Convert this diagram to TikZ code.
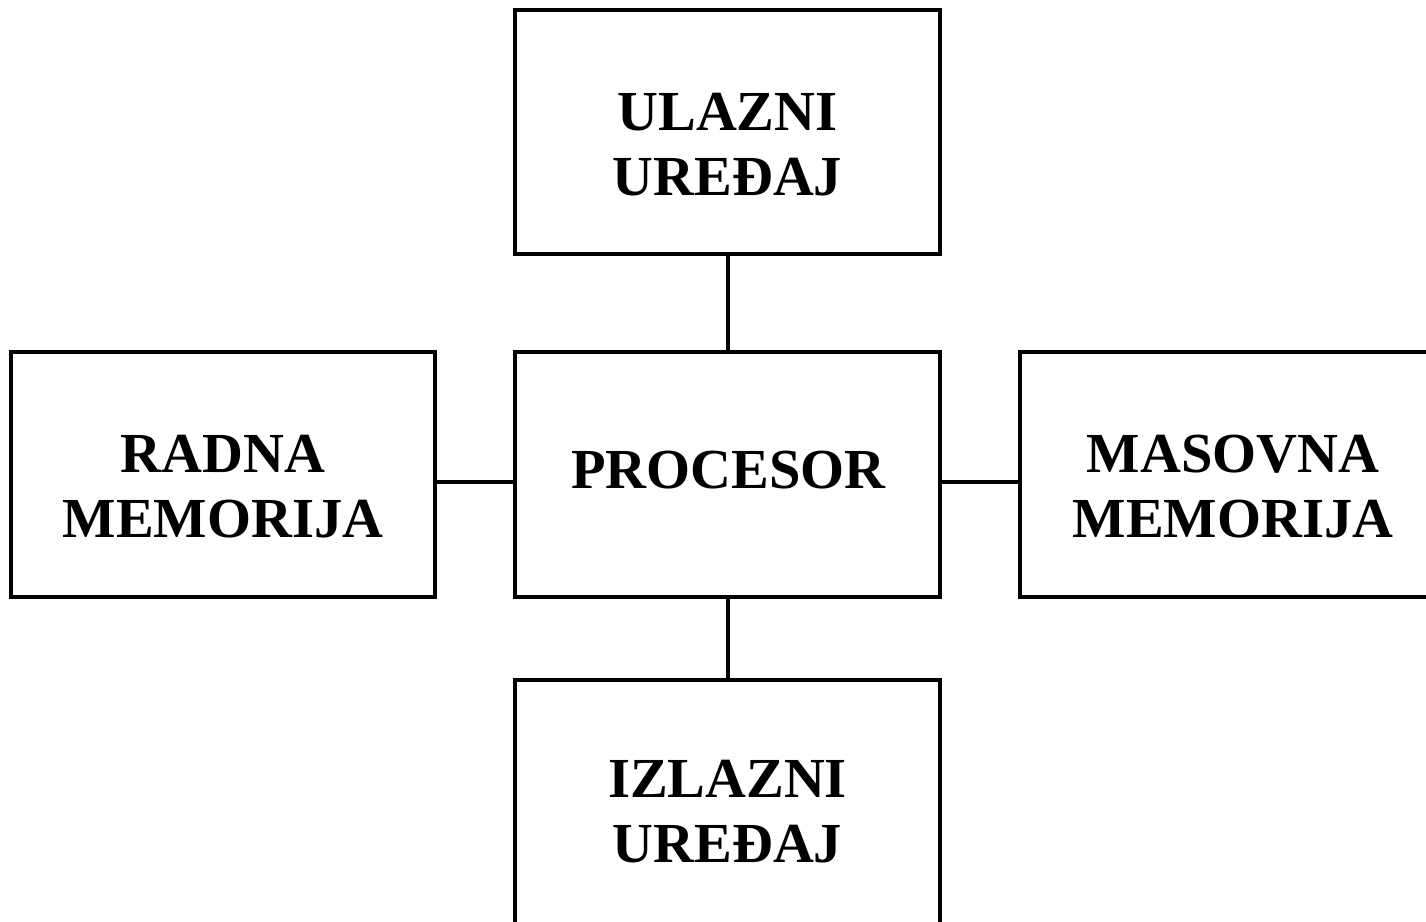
\documentclass[tikz,border=0pt]{standalone}
\usepackage{fontspec}
\setmainfont{Liberation Serif}
\begin{document}
\begin{tikzpicture}[x=0.02cm,y=-0.02cm,
  unitbox/.style={draw=black, line width=0.08cm, minimum width=8.5cm, minimum height=4.89cm, inner sep=0pt, outer sep=0pt},
  caption/.style={anchor=base, inner sep=0pt, font=\fontsize{32.2}{38}\selectfont\bfseries},
  link/.style={line width=0.08cm}]
\useasboundingbox (0,0) rectangle (1426,921);
\clip (0,0) rectangle (1426,921);
% units of the computer
\node[unitbox] (ulaz) at (727.5,132) {};
\node[unitbox] (proc) at (727.5,474.5) {};
\node[unitbox] (radna) at (223,474.5) {};
\node[unitbox] (masovna) at (1232,474.5) {};
\node[unitbox] (izlaz) at (727.5,802) {};
% labels
\node[caption] (ulaz1) at (727.5,130) {ULAZNI};
\node[caption] (ulaz2) at (727.5,195) {UREĐAJ};
\node[caption] (proc1) at (728.5,488) {PROCESOR};
\node[caption] (radna1) at (223,472) {RADNA};
\node[caption] (radna2) at (223,537) {MEMORIJA};
\node[caption] (mas1) at (1233,472) {MASOVNA};
\node[caption] (mas2) at (1233,537) {MEMORIJA};
\node[caption] (izlaz1) at (727.5,797) {IZLAZNI};
\node[caption] (izlaz2) at (727.5,862) {UREĐAJ};
% connections to the processor
\draw[link] (ulaz.south) -- (proc.north);
\draw[link] (proc.south) -- (izlaz.north);
\draw[link] ([yshift=-0.15cm]radna.east) -- ([yshift=-0.15cm]proc.west);
\draw[link] ([yshift=-0.15cm]proc.east) -- ([yshift=-0.15cm]masovna.west);
\end{tikzpicture}
\end{document}
